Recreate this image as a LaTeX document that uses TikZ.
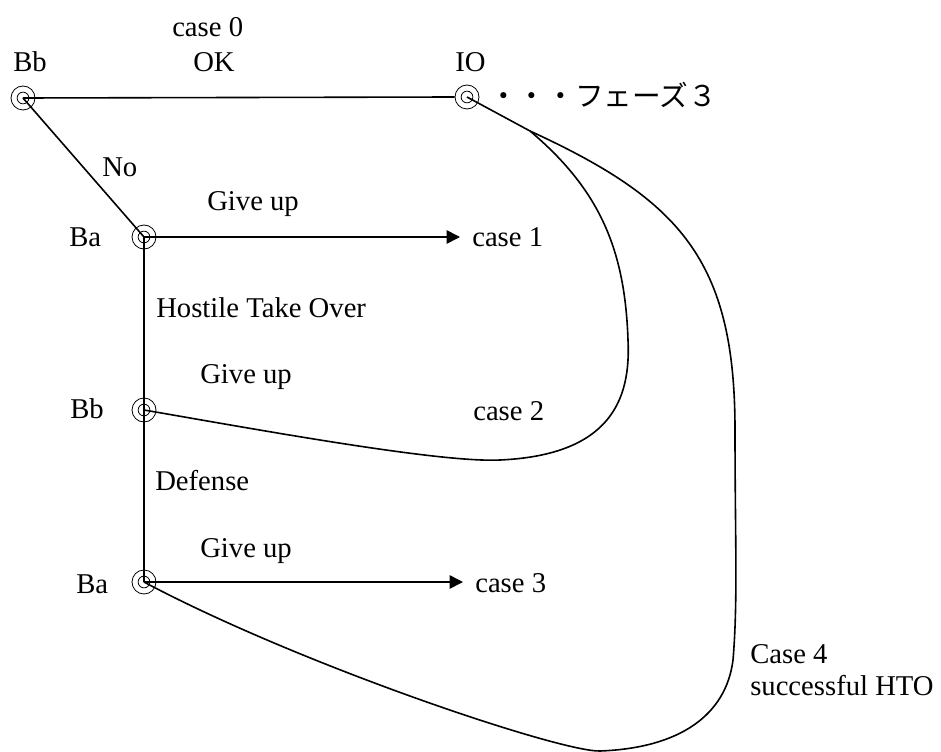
\documentclass[tikz,border=0pt]{standalone}
\usepackage{fontspec}
\setmainfont{Liberation Serif}
\newfontfamily\jpfont{Noto Sans CJK JP}
\usepackage{tikz}
\usetikzlibrary{arrows.meta}
\tikzset{
  dcirc/.style={circle, draw, line width=0.6pt, minimum size=18pt, inner sep=0pt,
    path picture={\draw[line width=0.6pt] (path picture bounding box.center) circle [radius=4.4pt];}},
  lbl/.style={anchor=base west, inner sep=0pt, font=\fontsize{21.5}{26}\selectfont},
  conn/.style={line width=1.2pt}
}

\begin{document}
\begin{tikzpicture}[x=0.75pt,y=-0.75pt]
\useasboundingbox (0,0) rectangle (941,752);
\node[dcirc] (bb0) at (23,98) {};
\node[dcirc] (io) at (467,97) {};
\node[dcirc] (ba1) at (144,237) {};
\node[dcirc] (bb2) at (144,410) {};
\node[dcirc] (ba3) at (144,582) {};
\coordinate (split) at (530,131);
\node[lbl] (case0) at (172,37) {case 0};
\node[lbl] (bb0lbl) at (13,72) {Bb};
\node[lbl] (ok) at (193,72) {OK};
\node[lbl] (iolbl) at (455,72) {IO};
\node[lbl] (phase) at (489,107) {\jpfont ・・・フェーズ３};
\node[lbl] (nolbl) at (102,177) {No};
\node[lbl] (give1) at (207,210) {Give up};
\node[lbl] (ba1lbl) at (69,247) {Ba};
\node[lbl] (c1) at (472,247) {case 1};
\node[lbl] (hto) at (156,317) {Hostile Take Over};
\node[lbl] (give2) at (200,383) {Give up};
\node[lbl] (bb2lbl) at (70,418) {Bb};
\node[lbl] (c2) at (473,420) {case 2};
\node[lbl] (defense) at (155,490) {Defense};
\node[lbl] (give3) at (200,557) {Give up};
\node[lbl] (ba3lbl) at (76,593) {Ba};
\node[lbl] (c3) at (475,592) {case 3};
\node[lbl] (c4) at (750,663) {Case 4};
\node[lbl] (c4b) at (750,695) {successful HTO};
\draw[conn] (bb0.center) -- (io.west);
\draw[conn] (bb0.center) -- (ba1.center) -- (bb2.center) -- (ba3.center);
\draw[conn,-{Triangle[length=10pt,width=10pt]},shorten >=9pt] (ba1.center) -- (ba1.center -| c1.west);
\draw[conn,-{Triangle[length=10pt,width=10pt]},shorten >=9pt] (ba3.center) -- (ba3.center -| c3.west);
\draw[conn] (io.center) -- (split);
\draw[conn] (split) .. controls (600,190) and (625,250) .. (628,340) .. controls (631,400) and (610,455) .. (500,460) .. controls (440,463) and (260,430) .. (bb2.center);
\draw[conn] (split) .. controls (680,200) and (735,260) .. (735,430) .. controls (735,540) and (738,600) .. (733,660) .. controls (726,715) and (680,748) .. (600,751) .. controls (560,752) and (300,665) .. (ba3.center);
\end{tikzpicture}
\end{document}
